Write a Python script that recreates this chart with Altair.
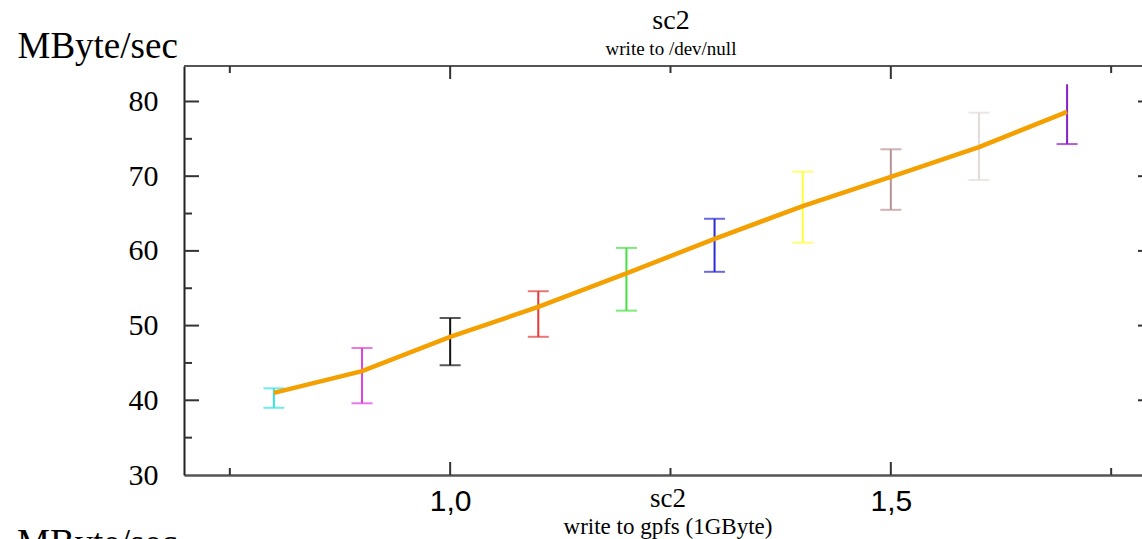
import altair as alt
import pandas as pd

# ---- data ----
size_gb = [0.8, 0.9, 1.0, 1.1, 1.2, 1.3, 1.4, 1.5, 1.6, 1.7]
mean_rate = [41.0, 43.9, 48.5, 52.5, 57.0, 61.6, 66.0, 69.9, 73.9, 78.6]
low_rate = [39.0, 39.6, 44.7, 48.5, 52.0, 57.2, 61.1, 65.5, 69.5, 74.3]
high_rate = [41.6, 47.0, 51.0, 54.6, 60.4, 64.3, 70.6, 73.6, 78.5, 82.3]
bar_colors = ["#33e3e3", "#e040e0", "#111111", "#e03a3a", "#44e044",
              "#2a2ad6", "#ffff38", "#bb9393", "#e4dada", "#8a1ec8"]
top_cap_shown = [True] * 9 + [False]

y_labels = [30, 40, 50, 60, 70, 80]
y_major_ticks = [40, 50, 60, 70, 80]
y_minor_ticks = [35, 45, 55, 65, 75]
x_labels = [1.0, 1.5]
x_major_ticks = [1.0, 1.5]
x_minor_ticks = [0.75, 1.25, 1.75]

title_text = "sc2"
subtitle_text = "write to /dev/null"
next_title_text = "sc2"
next_subtitle_text = "write to gpfs (1GByte)"
y_title = "MByte/sec"

W, H = 958, 409
SERIF = "Liberation Serif"
SANS = "Liberation Sans"
AX = "#555555"

df = pd.DataFrame({"x": size_gb, "m": mean_rate, "lo": low_rate, "hi": high_rate,
                   "c": bar_colors, "topcap": top_cap_shown})

xs = alt.Scale(domain=[0.698, 1.785], nice=False, zero=False)
ys = alt.Scale(domain=[30, 84.75], nice=False, zero=False)

X = alt.X("x:Q", scale=xs, axis=alt.Axis(
    values=x_labels, labelExpr="replace(format(datum.value, '.1f'), '.', ',')",
    ticks=False, grid=False, labelFont=SANS, labelFontSize=30, labelColor="#000",
    labelPadding=11, domainColor=AX, domainWidth=2.5, title=None))
Y = alt.Y("m:Q", scale=ys, axis=alt.Axis(
    values=y_labels, ticks=False, grid=False, labelFont=SERIF, labelFontSize=30,
    labelColor="#000", labelPadding=26, domainColor="#222", domainWidth=2,
    title=y_title, titleAngle=0, titleAlign="left", titleBaseline="alphabetic",
    titleX=-167, titleY=-9, titleFont=SERIF, titleFontSize=37,
    titleFontWeight="normal", titleColor="#000"))

base = alt.Chart(df)

bars = base.mark_rule(strokeWidth=2).encode(
    x=alt.X("x:Q", scale=xs), y=alt.Y("lo:Q", scale=ys), y2="hi:Q",
    color=alt.Color("c:N", scale=None))
cap_lo = base.mark_tick(orient="horizontal", size=21, thickness=2).encode(
    x=alt.X("x:Q", scale=xs), y=alt.Y("lo:Q", scale=ys),
    color=alt.Color("c:N", scale=None))
cap_hi = base.transform_filter("datum.topcap").mark_tick(
    orient="horizontal", size=21, thickness=2).encode(
    x=alt.X("x:Q", scale=xs), y=alt.Y("hi:Q", scale=ys),
    color=alt.Color("c:N", scale=None))
line = base.mark_line(color="#f3a000", strokeWidth=4.5).encode(x=X, y=Y)

# frame top line
top_line = alt.Chart(pd.DataFrame({"a": [0]})).mark_rule(
    color=AX, strokeWidth=2).encode(x=alt.value(0), x2=alt.value(W), y=alt.value(0))

def yticks(vals, x0, x1):
    return alt.Chart(pd.DataFrame({"v": vals})).mark_rule(
        color="#333", strokeWidth=2).encode(
        y=alt.Y("v:Q", scale=ys), x=alt.value(x0), x2=alt.value(x1))

def xticks(vals, y0, y1):
    return alt.Chart(pd.DataFrame({"v": vals})).mark_rule(
        color="#333", strokeWidth=2).encode(
        x=alt.X("v:Q", scale=xs), y=alt.value(y0), y2=alt.value(y1))

ticks = [
    yticks(y_major_ticks, 0, 15), yticks(y_minor_ticks, 0, 8),
    yticks(y_major_ticks, W - 4, W),
    xticks(x_major_ticks, H, H - 13), xticks(x_minor_ticks, H, H - 7),
    xticks(x_major_ticks, 0, 13), xticks(x_minor_ticks, 0, 7),
]

def label(txt, x, y, size, font=SERIF, align="center"):
    return alt.Chart(pd.DataFrame({"t": [txt]})).mark_text(
        font=font, fontSize=size, align=align, baseline="alphabetic",
        color="#000", clip=False).encode(
        text="t:N", x=alt.value(x), y=alt.value(y))

texts = [
    label(title_text, 487, -37, 28),
    label(subtitle_text, 487, -11, 19),
    label(next_title_text, 484, 441, 27),
    label(next_subtitle_text, 484, 468, 23),
    label(y_title, -167, 489, 37, align="left"),
]

chart = alt.layer(top_line, *ticks, bars, cap_lo, cap_hi, line, *texts).properties(
    width=W, height=H,
    autosize=alt.AutoSizeParams(type="none"),
    padding={"left": 184, "top": 66, "right": 0, "bottom": 64},
).configure_view(stroke=None).configure(background="white")

chart.save("out.html", embed_options={"renderer": "svg", "actions": False})
